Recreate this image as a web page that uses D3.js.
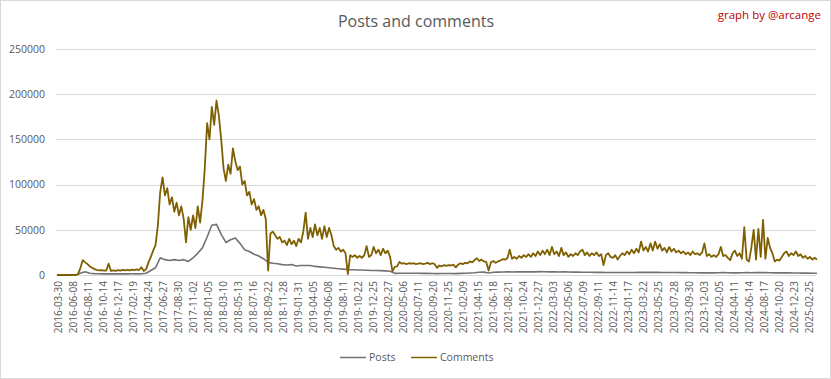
<!DOCTYPE html>
<html><head><meta charset="utf-8">
<script src="https://cdn.jsdelivr.net/npm/d3@7"></script>
<style>html,body{margin:0;padding:0;background:#fff;}svg{display:block;font-family:"Open Sans",sans-serif;}</style>
</head><body><svg id="chart" width="831" height="379"></svg>
<script>
// ---- data ----
const tickLabels = ["2016-03-30","2016-06-08","2016-08-11","2016-10-14","2016-12-17","2017-02-19","2017-04-24","2017-06-27","2017-08-30","2017-11-02","2018-01-05","2018-03-10","2018-05-13","2018-07-16","2018-09-22","2018-11-28","2019-01-31","2019-04-05","2019-06-08","2019-08-11","2019-10-22","2019-12-25","2020-02-27","2020-05-06","2020-07-11","2020-09-20","2020-11-25","2021-02-09","2021-04-15","2021-06-18","2021-08-21","2021-10-24","2021-12-27","2022-03-03","2022-05-06","2022-07-09","2022-09-11","2022-11-14","2023-01-17","2023-03-22","2023-05-25","2023-07-28","2023-09-30","2023-12-03","2024-02-05","2024-04-11","2024-06-14","2024-08-17","2024-10-20","2024-12-23","2025-02-25"];
const labelEvery = 64;          // categories between two tick labels
const lastCategory = 3240;      // index of last day in the series
const commentsStep = 10;        // comments sampled every 10 days
const postsStep = 20;           // posts sampled every 20 days
const yTicks = [0,50000,100000,150000,200000,250000];
const seriesNames = ["Posts","Comments"];

const comments = [
0,0,0,0,0,0,0,0,0,
1000,8000,16500,14000,12000,9500,8000,6500,5800,5200,
5500,4800,5000,12500,4500,5200,4600,5500,4800,5600,
5000,5800,5200,6000,5300,6200,5500,8500,4500,6500,
14000,20000,27000,33000,55000,92000,108000,88000,96000,78000,
86000,70000,80000,66000,76000,62000,36000,64000,50000,66000,
52000,76000,58000,82000,118000,168000,150000,186000,166000,193000,
176000,150000,118000,104000,122000,112000,140000,126000,116000,120000,
100000,104000,88000,92000,78000,84000,72000,76000,66000,72000,
62000,5000,46000,48000,44000,40000,42000,36000,38000,33000,
40000,34000,38000,32000,40000,36000,48000,69000,40000,52000,
42000,56000,44000,52000,40000,54000,42000,52000,44000,32000,
28000,30000,26000,28000,24000,1000,22000,20000,22000,19000,
21000,19000,22000,32000,20000,22000,31000,24000,28000,22000,
29000,24000,27000,20000,4000,9000,9500,14500,12500,13000,
12000,13000,12500,13000,12000,12500,13000,12000,12500,13500,
12000,13000,12000,8000,10500,9500,11000,10000,11000,10500,
11500,8500,11500,13000,12000,13500,13000,15000,14000,16500,
18500,15500,17000,15000,14500,5000,14000,15500,13500,15000,
16000,17500,17000,18500,28000,18000,20000,18000,21000,19000,
22000,20000,23000,20000,24000,21000,26000,22000,27000,23000,
28000,22000,31000,23000,26000,21000,30000,22000,25000,20000,
23000,21000,24000,22000,26000,28000,22000,25000,21000,24000,
22000,25000,21000,23000,11000,22000,24000,20000,19000,22000,
17000,21000,24000,22000,26000,23000,28000,24000,29000,25000,
37000,27000,31000,26000,35000,27000,37000,29000,34000,27000,
30000,25000,31000,26000,29000,25000,27000,24000,26000,23000,
25000,22000,26000,23000,24000,22000,25000,35000,21000,23000,
20000,22000,20000,23000,31000,21000,22000,19000,16500,24000,
27000,21000,24000,18000,53000,17000,15000,30000,50000,17000,
51000,20000,61000,18000,41000,30000,24000,15000,17000,16000,
20000,24000,26000,21000,24000,22000,26000,21000,23000,19000,
21000,18000,20000,17000,19000,17000
];

const posts = [
0,0,0,0,0,2000,3500,2000,1500,1300,
1200,1300,1200,1200,1200,1200,1300,1300,1400,2000,
5000,8000,19000,17000,16000,17000,16000,17000,15000,19000,
24000,30000,42000,55000,56000,45000,36000,39000,41000,35000,
28000,26000,23000,21000,18000,14000,13000,12500,11500,11000,
11500,10000,10500,10500,10500,9500,9000,8500,8000,7500,
7000,6500,6000,5800,5500,5500,5300,5000,5000,4800,
4600,4200,1800,2000,1900,2000,2000,1900,1800,1800,
1700,1500,1700,1600,1700,1500,1800,2000,2200,2500,
3000,3200,2200,3000,3200,3300,3500,3400,3500,3600,
3500,3600,3500,3700,3600,3500,3600,3400,3500,3300,
3200,3300,3100,3000,3100,2900,2900,2800,2800,2700,
2700,2800,2700,2800,3000,2900,2900,3000,2900,2800,
2800,2700,2700,2600,2600,2500,2500,2400,2500,2400,
2400,2500,2600,2500,2400,2400,2500,2600,2500,2600,
2700,2600,2500,2400,2400,2300,2300,2200,2200,2100,
2100,2000,2000
];

// ---- chart ----
const svg = d3.select("#chart");
const W = 831, H = 379;
const plot = {left: 56, right: 816, top: 49, bottom: 275};

svg.append("rect").attr("x",0.5).attr("y",0.5).attr("width",W-1).attr("height",H-1)
  .attr("fill","#fff").attr("stroke","#D9D9D9");

const x = d3.scaleLinear().domain([0, lastCategory]).range([57, 817]);
const y = d3.scaleLinear().domain([0, 250000]).range([plot.bottom, plot.top]);

// gridlines
svg.append("g").selectAll("line").data(yTicks).join("line")
  .attr("x1", plot.left).attr("x2", plot.right)
  .attr("y1", d => Math.round(y(d)) + 0.5).attr("y2", d => Math.round(y(d)) + 0.5)
  .attr("stroke", "#D9D9D9").attr("stroke-width", 1);

// y axis
const yAxis = svg.append("g").attr("transform", `translate(${plot.left},0)`)
  .call(d3.axisLeft(y).tickValues(yTicks).tickSize(0).tickPadding(11).tickFormat(d3.format("d")));
yAxis.select(".domain").remove();
yAxis.selectAll("text").attr("fill","#595959").attr("font-size","10.5px").attr("font-family","'Open Sans',sans-serif");

// x axis
const xAxis = svg.append("g").attr("transform", `translate(0,${plot.bottom})`)
  .call(d3.axisBottom(x).tickValues(tickLabels.map((_, i) => i * labelEvery)).tickSize(0)
    .tickFormat((d, i) => tickLabels[i]));
xAxis.select(".domain").remove();
xAxis.selectAll("text")
  .attr("transform","rotate(-90)")
  .attr("text-anchor","end")
  .attr("x", -6).attr("y", 1).attr("dy","0.35em")
  .attr("fill","#595959").attr("font-size","10px").attr("font-family","'Open Sans',sans-serif");

// lines
const commentsLine = d3.line().x((d, i) => x(i * commentsStep)).y(d => y(d));
const postsLine = d3.line().x((d, i) => x(i * postsStep)).y(d => y(d));

svg.append("path").datum(posts).attr("d", postsLine)
  .attr("fill","none").attr("stroke","#767171").attr("stroke-width",1.6).attr("stroke-linejoin","round");
svg.append("path").datum(comments).attr("d", commentsLine)
  .attr("fill","none").attr("stroke","#7F6000").attr("stroke-width",1.8).attr("stroke-linejoin","round");

// title
svg.append("text").attr("x", 416).attr("y", 27).attr("text-anchor","middle")
  .attr("fill","#595959").attr("font-size","16px").attr("font-family","'Open Sans',sans-serif")
  .text("Posts and comments");
svg.append("text").attr("x", 821).attr("y", 19).attr("text-anchor","end")
  .attr("fill","#C00000").attr("font-size","11.5px").attr("font-family","'Open Sans',sans-serif")
  .text("graph by @arcange");

// legend
const legendColors = ["#767171","#7F6000"];
const legendX = [340, 411];
const lg = svg.append("g");
seriesNames.forEach((name, i) => {
  lg.append("line").attr("x1", legendX[i]).attr("x2", legendX[i] + 26)
    .attr("y1", 357.5).attr("y2", 357.5).attr("stroke", legendColors[i]).attr("stroke-width", 1.5);
  lg.append("text").attr("x", legendX[i] + 29).attr("y", 357).attr("dy","0.35em")
    .attr("fill","#595959").attr("font-size","10.5px").attr("font-family","'Open Sans',sans-serif")
    .text(name);
});
</script></body></html>
